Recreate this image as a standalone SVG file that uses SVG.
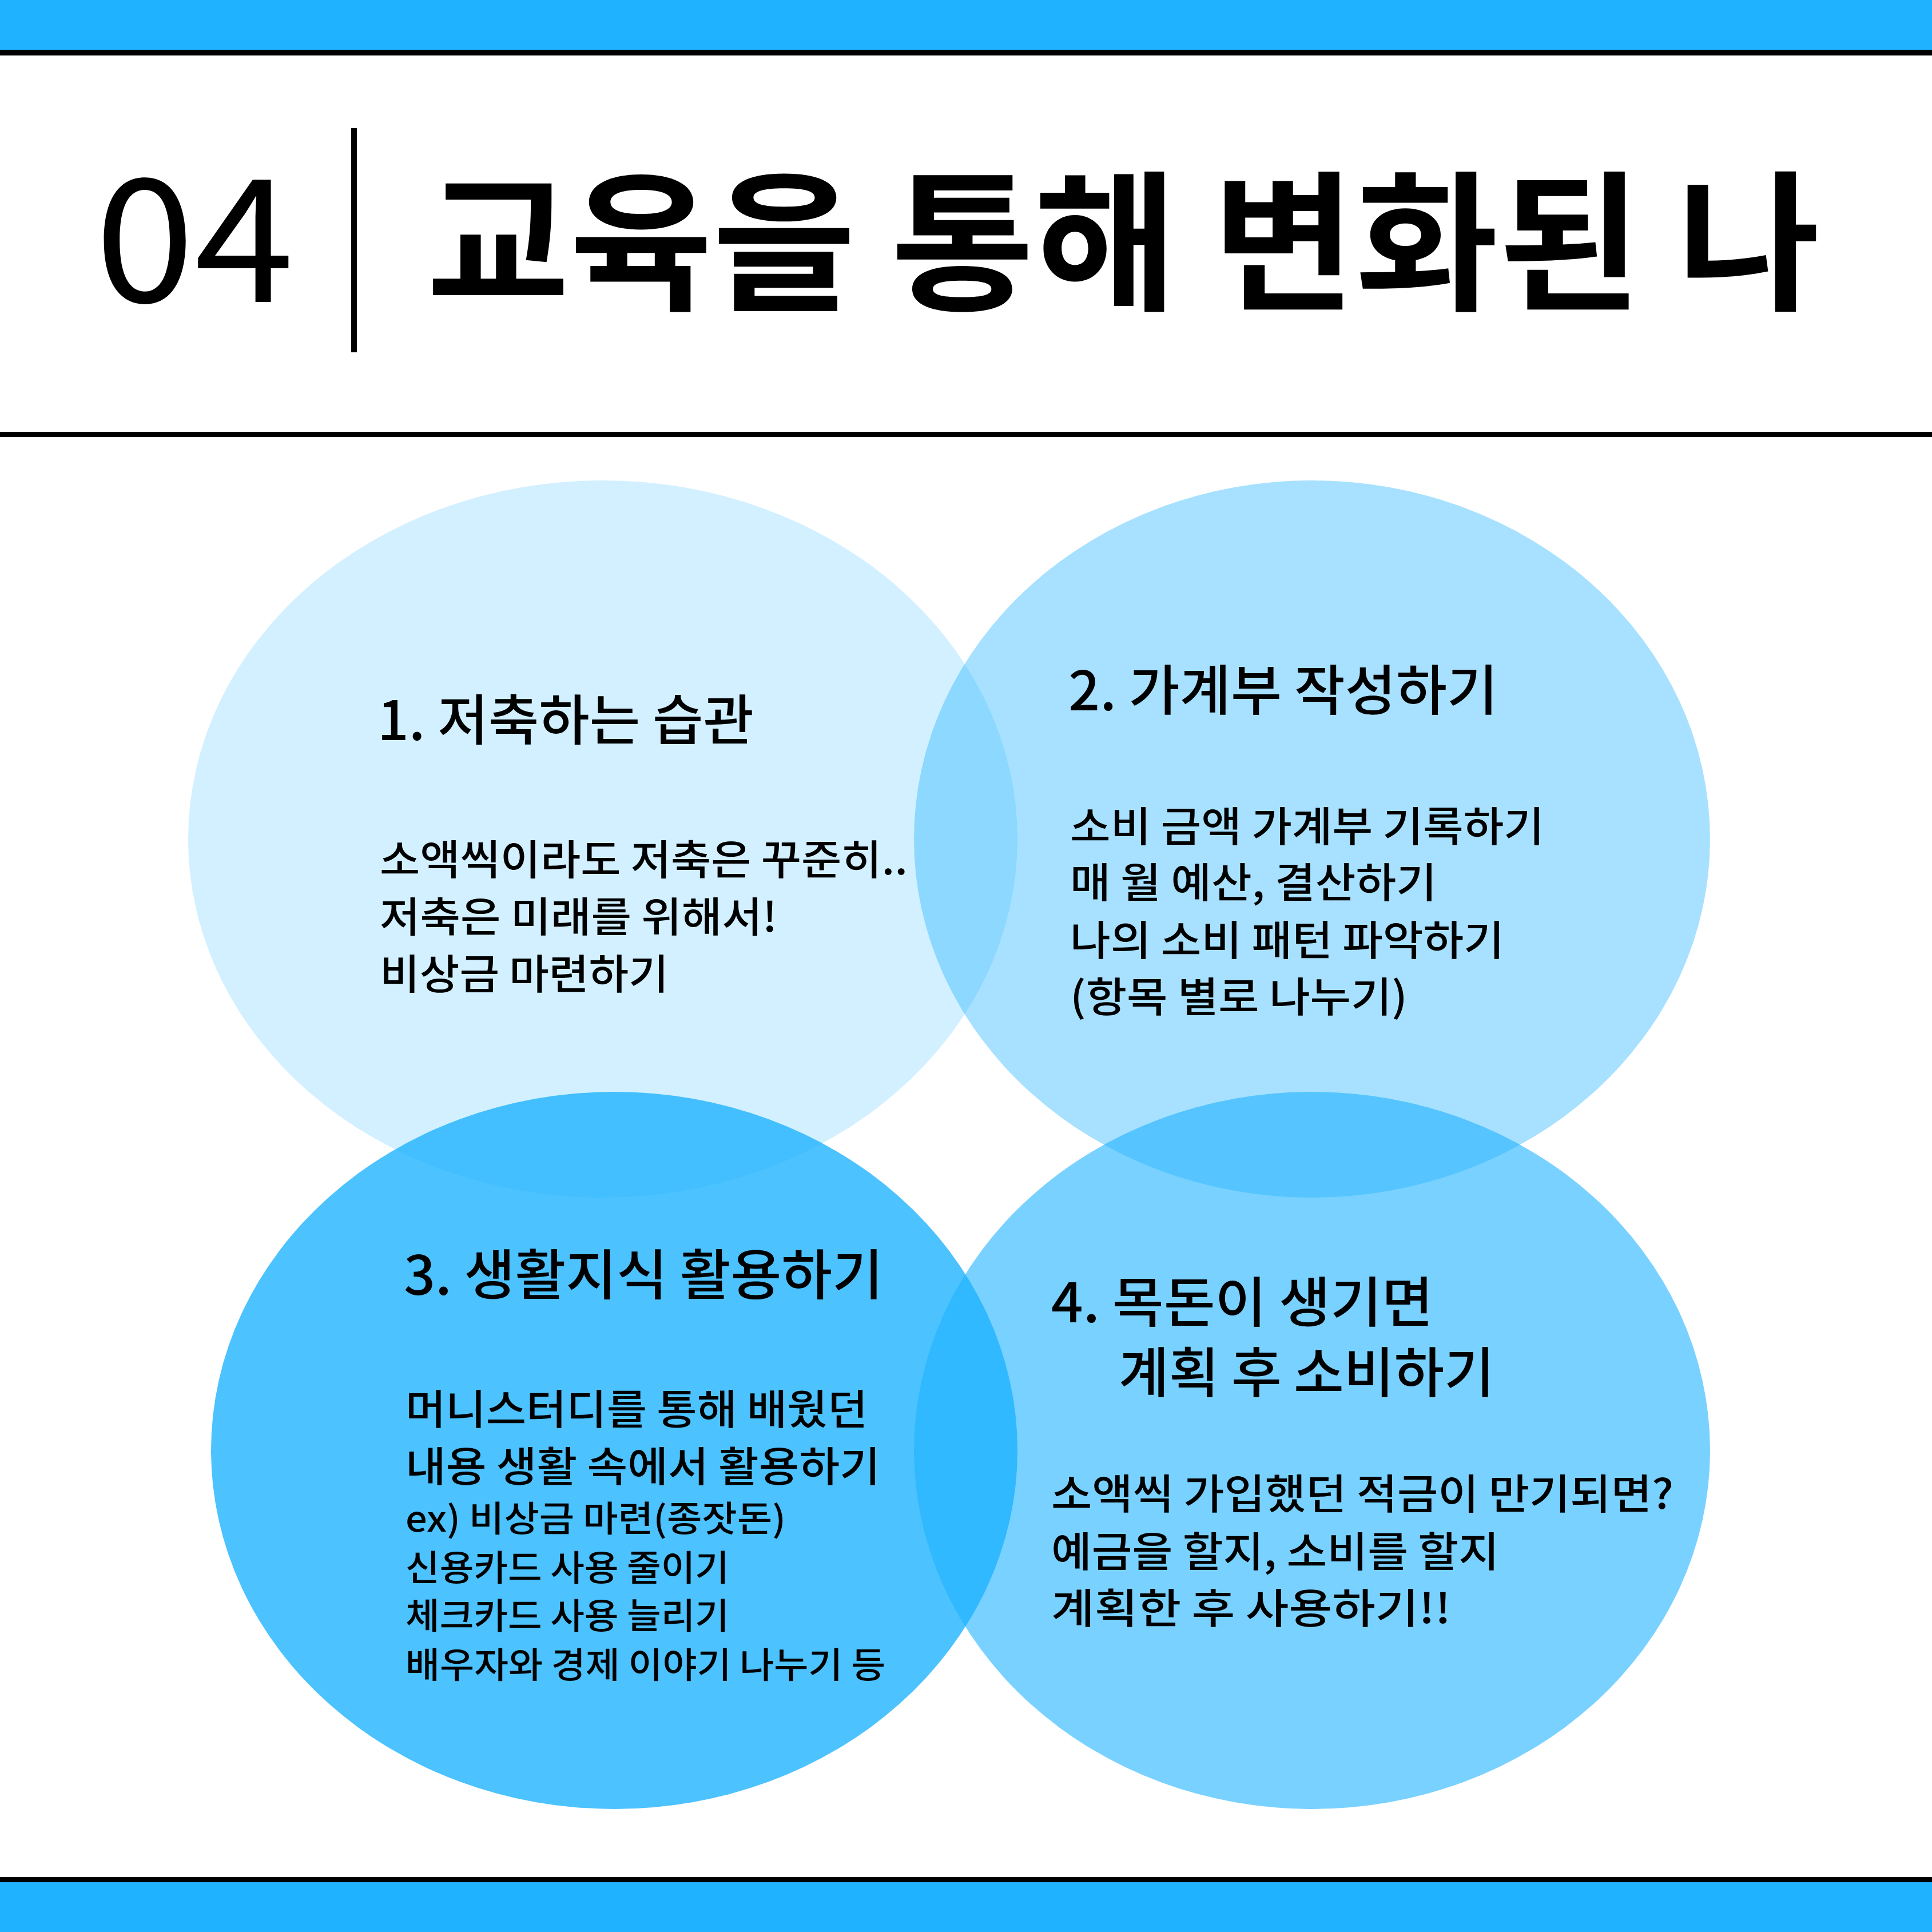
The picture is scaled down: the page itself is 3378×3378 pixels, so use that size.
<svg xmlns="http://www.w3.org/2000/svg" width="3378" height="3378" viewBox="0 0 3378 3378">
<style>
.kr{font-family:"Noto Sans CJK KR","Noto Sans",sans-serif;fill:#000;}
.h{font-size:95px;font-weight:500;}
.b{font-size:72px;font-weight:500;}
.s{font-size:62px;font-weight:500;}
.c{fill:#1FB3FF;}
</style>
<rect x="0" y="0" width="3378" height="3378" fill="#FFFFFF"/>
<g id="header">
<rect x="0" y="0" width="3378" height="88" fill="#1FB3FF"/>
<rect x="0" y="87" width="3378" height="10" fill="#000"/>
<rect x="0" y="755" width="3378" height="9" fill="#000"/>
<rect x="614" y="224" width="10" height="392" fill="#000"/>
<text class="kr" x="166" y="528" font-size="300" font-weight="400" textLength="348" lengthAdjust="spacingAndGlyphs">04</text>
<text class="kr" x="746" y="522" font-size="265" font-weight="700" textLength="2436" lengthAdjust="spacingAndGlyphs">교육을 통해 변화된 나</text>
</g>
<g id="footer">
<rect x="0" y="3282" width="3378" height="10" fill="#000"/>
<rect x="0" y="3291" width="3378" height="87" fill="#1FB3FF"/>
</g>
<g id="circle1">
<ellipse class="c" cx="1054" cy="1467" rx="725" ry="627" fill-opacity="0.2"/>
</g>
<g id="circle2">
<ellipse class="c" cx="2294" cy="1467" rx="696" ry="627" fill-opacity="0.39"/>
</g>
<g id="circle3">
<ellipse class="c" cx="1074" cy="2536" rx="705" ry="627" fill-opacity="0.8"/>
</g>
<g id="circle4">
<ellipse class="c" cx="2294" cy="2536" rx="696" ry="627" fill-opacity="0.6"/>
</g>
<g id="text1">
<text class="kr h" x="660" y="1294" textLength="658" lengthAdjust="spacingAndGlyphs">1. 저축하는 습관</text>
<text class="kr b" x="664" y="1529" textLength="923" lengthAdjust="spacingAndGlyphs">소액씩이라도 저축은 꾸준히..</text>
<text class="kr b" x="664" y="1629" textLength="695" lengthAdjust="spacingAndGlyphs">저축은 미래를 위해서!</text>
<text class="kr b" x="664" y="1729" textLength="505" lengthAdjust="spacingAndGlyphs">비상금 마련하기</text>
</g>
<g id="text2">
<text class="kr h" x="1868" y="1242" textLength="751" lengthAdjust="spacingAndGlyphs">2. 가계부 작성하기</text>
<text class="kr b" x="1871" y="1471" textLength="829" lengthAdjust="spacingAndGlyphs">소비 금액 가계부 기록하기</text>
<text class="kr b" x="1871" y="1569" textLength="641" lengthAdjust="spacingAndGlyphs">매 월 예산, 결산하기</text>
<text class="kr b" x="1871" y="1670" textLength="759" lengthAdjust="spacingAndGlyphs">나의 소비 패턴 파악하기</text>
<text class="kr b" x="1871" y="1769" textLength="590" lengthAdjust="spacingAndGlyphs">(항목 별로 나누기)</text>
</g>
<g id="text3">
<text class="kr h" x="706" y="2264" textLength="838" lengthAdjust="spacingAndGlyphs">3. 생활지식 활용하기</text>
<text class="kr b" x="709" y="2490" textLength="808" lengthAdjust="spacingAndGlyphs">머니스터디를 통해 배웠던</text>
<text class="kr b" x="709" y="2590" textLength="830" lengthAdjust="spacingAndGlyphs">내용 생활 속에서 활용하기</text>
<text class="kr s" x="709" y="2678" textLength="665" lengthAdjust="spacingAndGlyphs">ex) 비상금 마련(종잣돈)</text>
<text class="kr s" x="709" y="2764" textLength="566" lengthAdjust="spacingAndGlyphs">신용카드 사용 줄이기</text>
<text class="kr s" x="709" y="2848" textLength="566" lengthAdjust="spacingAndGlyphs">체크카드 사용 늘리기</text>
<text class="kr s" x="709" y="2934" textLength="839" lengthAdjust="spacingAndGlyphs">배우자와 경제 이야기 나누기 등</text>
</g>
<g id="text4">
<text class="kr h" x="1838" y="2312" textLength="668" lengthAdjust="spacingAndGlyphs">4. 목돈이 생기면</text>
<text class="kr h" x="1956" y="2435" textLength="657" lengthAdjust="spacingAndGlyphs">계획 후 소비하기</text>
<text class="kr b" x="1838" y="2638" textLength="1088" lengthAdjust="spacingAndGlyphs">소액씩 가입했던 적금이 만기되면?</text>
<text class="kr b" x="1838" y="2739" textLength="783" lengthAdjust="spacingAndGlyphs">예금을 할지, 소비를 할지</text>
<text class="kr b" x="1838" y="2838" textLength="699" lengthAdjust="spacingAndGlyphs">계획한 후 사용하기!!</text>
</g>
</svg>
